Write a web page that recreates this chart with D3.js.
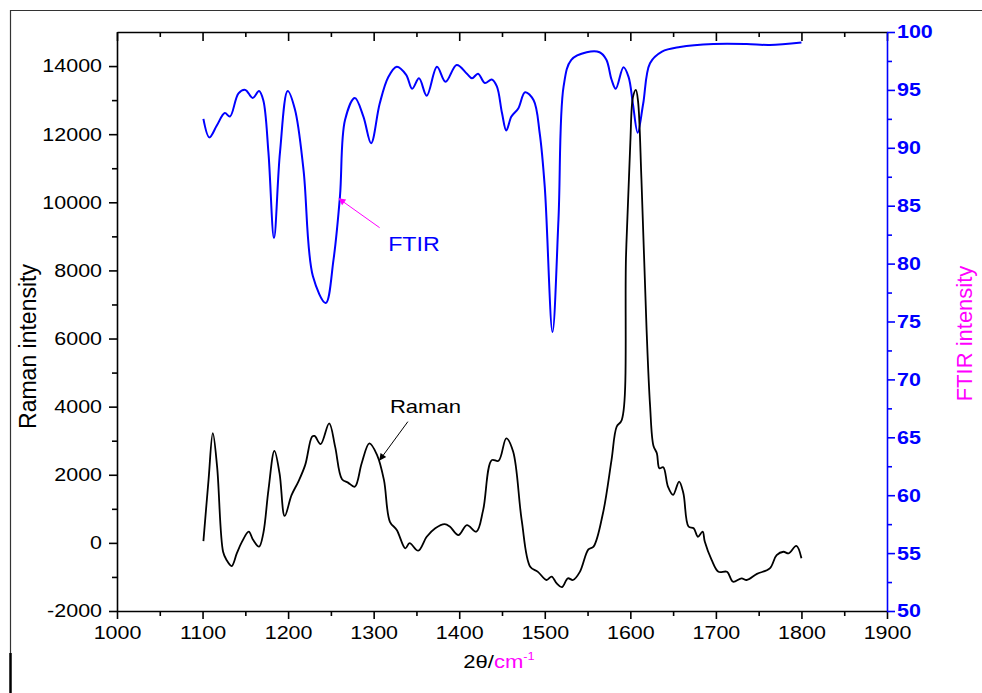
<!DOCTYPE html>
<html><head><meta charset="utf-8">
<script src="https://cdn.jsdelivr.net/npm/d3@7"></script>
<style>
body{margin:0;background:#fff}
svg{display:block}
text{font-family:"Liberation Sans",Arial,Helvetica,sans-serif}
</style>
</head><body>
<svg id="chart" width="982" height="693"></svg>
<script>
// ---------------- data ----------------
const ramanWavenumber = [1101,1107,1112,1117,1124,1128,1134,1140,1146,1154,1159,1166,1171,1177,1184,1190,1196,1204,1212,1220,1228,1231,1238,1248,1255,1263,1270,1278,1286,1295,1304,1312,1319,1327,1337,1342,1352,1362,1372,1383,1389,1399,1409,1420,1428,1438,1446,1455,1463,1473,1483,1492,1502,1508,1514,1520,1527,1533,1541,1551,1557,1568,1578,1584,1590,1595,1600,1603,1606.5,1609,1613,1619,1623,1627,1631,1634,1638.5,1644,1650,1657,1662,1668,1674,1679,1684.5,1687,1695,1703,1713,1720,1730,1736,1748,1763,1771,1779,1785,1794,1800];
const ramanIntensity = [50,1850,3220,2240,-260,-500,-680,-310,30,330,90,-110,280,1550,2700,2040,790,1400,1800,2290,3120,3140,2900,3510,2820,1870,1770,1650,2340,2920,2580,1850,620,380,-160,-10,-230,180,430,550,480,230,520,330,970,2430,2410,3070,2680,670,-700,-850,-1090,-990,-1190,-1300,-1040,-1090,-850,-190,-110,870,2430,3410,3610,8460,11760,13080,13300,12970,10660,6260,4060,2850,2630,2190,2220,1650,1410,1800,1460,480,430,180,330,40,-500,-850,-850,-1140,-1040,-1090,-910,-750,-360,-260,-310,-90,-450];

const ftirWavenumber = [1101,1108,1116.5,1126,1132,1142,1150,1158.6,1166,1171,1177,1183.5,1190.5,1199.5,1208,1218,1229,1244,1253,1260.6,1266.5,1278,1288,1297,1307,1317,1327,1338,1345,1353,1362,1374,1384,1397,1409,1415,1422,1430,1438,1444,1450,1455,1461,1469,1477,1487,1494,1500,1509,1516,1522,1531,1549,1564,1572,1578,1583,1592,1598,1603,1608.6,1615,1623,1637,1658,1697,1736,1763,1800];
const ftirIntensity = [92.5,90.9,91.9,93.0,92.7,94.7,95.0,94.3,94.9,94.1,89.6,82.2,89.6,94.9,93.3,88.1,78.9,76.6,80.3,85.8,92.4,94.3,92.7,90.4,93.8,96.1,97.0,96.3,95.1,96.0,94.5,97.0,95.7,97.15,96.4,96.0,96.4,95.6,95.9,95.3,93.0,91.5,92.7,93.4,94.8,94.1,91.3,86.6,74.1,83.8,95.3,97.6,98.25,98.25,97.6,95.9,95.1,96.95,96.1,93.8,91.3,93.8,97.3,98.3,98.7,98.96,98.96,98.88,99.1];

const xTicks = [1000,1100,1200,1300,1400,1500,1600,1700,1800,1900];
const xMinorTicks = [1050,1150,1250,1350,1450,1550,1650,1750,1850];
const leftTicks = [-2000,0,2000,4000,6000,8000,10000,12000,14000];
const leftMinorTicks = [-1000,1000,3000,5000,7000,9000,11000,13000];
const rightTicks = [50,55,60,65,70,75,80,85,90,95,100];
const rightMinorTicks = [52.5,57.5,62.5,67.5,72.5,77.5,82.5,87.5,92.5,97.5];

// ---------------- layout ----------------
const svg = d3.select("#chart");
const L = 117, R = 887, T = 32, B = 611;
const x = d3.scaleLinear().domain([1000,1900]).range([L,R]);
const yL = d3.scaleLinear().domain([-2000,15000]).range([B,T]);
const yR = d3.scaleLinear().domain([50,100]).range([B,T]);
const STRETCH = 1.16;
const tickFont = 18.5;
const fmt = d => String(d);

svg.append("rect").attr("width",982).attr("height",693).attr("fill","#fff");
// outer frame
svg.append("line").attr("x1",10).attr("x2",982).attr("y1",10.5).attr("y2",10.5).attr("stroke","#333").attr("stroke-width",1.2);
svg.append("line").attr("x1",10.5).attr("x2",10.5).attr("y1",10).attr("y2",653).attr("stroke","#333").attr("stroke-width",1.2);
svg.append("line").attr("x1",10.5).attr("x2",10.5).attr("y1",653).attr("y2",693).attr("stroke","#000").attr("stroke-width",2.5);

// curves
const line = (xs, ys, yscale) => d3.line().curve(d3.curveCatmullRom.alpha(0.5))
  .x((d,i)=>x(xs[i])).y((d,i)=>yscale(ys[i]));
svg.append("path").datum(ftirIntensity).attr("d", line(ftirWavenumber, ftirIntensity, yR))
  .attr("fill","none").attr("stroke","#0000ff").attr("stroke-width",2);
svg.append("path").datum(ramanIntensity).attr("d", line(ramanWavenumber, ramanIntensity, yL))
  .attr("fill","none").attr("stroke","#000").attr("stroke-width",1.8);

function styleAxis(g, color, w){
  g.selectAll("path.domain").attr("stroke",color).attr("stroke-width",w);
  g.selectAll(".tick line").attr("stroke",color).attr("stroke-width",w);
}
// bottom axis
const gB = svg.append("g").attr("transform",`translate(0,${B})`)
  .call(d3.axisBottom(x).tickValues(xTicks).tickSize(8).tickSizeOuter(0).tickPadding(7).tickFormat(fmt));
styleAxis(gB,"#000",1.6);
gB.selectAll("text").attr("font-size",tickFont).attr("fill","#000").classed("stretch",true);
const gBm = svg.append("g").attr("transform",`translate(0,${B})`)
  .call(d3.axisBottom(x).tickValues(xMinorTicks).tickSize(5).tickFormat(""));
gBm.select(".domain").remove(); styleAxis(gBm,"#000",1.6);
// top axis (inward ticks)
const gT = svg.append("g").attr("transform",`translate(0,${T})`)
  .call(d3.axisTop(x).tickValues(xTicks).tickSize(-9).tickSizeOuter(0).tickFormat(""));
styleAxis(gT,"#000",1.6);
const gTm = svg.append("g").attr("transform",`translate(0,${T})`)
  .call(d3.axisTop(x).tickValues(xMinorTicks).tickSize(-5).tickFormat(""));
gTm.select(".domain").remove(); styleAxis(gTm,"#000",1.6);
// left axis
const gL = svg.append("g").attr("transform",`translate(${L},0)`)
  .call(d3.axisLeft(yL).tickValues(leftTicks).tickSize(8).tickSizeOuter(0).tickPadding(7).tickFormat(fmt));
styleAxis(gL,"#000",1.6);
gL.selectAll("text").attr("font-size",tickFont).attr("fill","#000").classed("stretch",true);
const gLm = svg.append("g").attr("transform",`translate(${L},0)`)
  .call(d3.axisLeft(yL).tickValues(leftMinorTicks).tickSize(5).tickFormat(""));
gLm.select(".domain").remove(); styleAxis(gLm,"#000",1.6);
// right axis (blue)
const gR = svg.append("g").attr("transform",`translate(${R},0)`)
  .call(d3.axisRight(yR).tickValues(rightTicks).tickSize(8).tickSizeOuter(0).tickPadding(2).tickFormat(fmt));
styleAxis(gR,"#0000ff",1.6);
gR.selectAll("text").attr("font-size",tickFont).attr("font-weight","bold").attr("fill","#0000ff").classed("stretch",true);
const gRm = svg.append("g").attr("transform",`translate(${R},0)`)
  .call(d3.axisRight(yR).tickValues(rightMinorTicks).tickSize(5).tickFormat(""));
gRm.select(".domain").remove(); styleAxis(gRm,"#0000ff",1.6);

// axis titles
svg.append("text").attr("transform",`translate(36,${(T+B)/2+25}) rotate(-90)`)
  .attr("text-anchor","middle").attr("font-size",23).attr("fill","#000").text("Raman intensity");
svg.append("text").attr("transform",`translate(972,${(T+B)/2+12}) rotate(-90)`)
  .attr("text-anchor","middle").attr("font-size",22).attr("fill","#ff00ff").text("FTIR intensity");
const xt = svg.append("text").attr("x",(L+R)/2-3).attr("y",668).attr("text-anchor","middle").attr("font-size",19).classed("stretch",true);
xt.append("tspan").attr("fill","#000").text("2θ/");
xt.append("tspan").attr("fill","#ff00ff").text("cm");
xt.append("tspan").attr("fill","#ff00ff").attr("font-size",11).attr("dy",-8).text("-1");

// annotations
const defs = svg.append("defs");
function marker(id,color){
  defs.append("marker").attr("id",id).attr("viewBox","0 0 10 10").attr("refX",9).attr("refY",5)
    .attr("markerWidth",10).attr("markerHeight",7).attr("markerUnits","userSpaceOnUse").attr("orient","auto")
    .append("path").attr("d","M0,0 L10,5 L0,10 z").attr("fill",color);
}
marker("mMag","#ff00ff"); marker("mBlk","#000");
const ftirArrow = {from:[1307,83.1], to:[1259.5,85.6]};
const ramanArrow = {from:[1340,3560], to:[1307,2430]};
svg.append("line").attr("x1",x(ftirArrow.from[0])).attr("y1",yR(ftirArrow.from[1]))
  .attr("x2",x(ftirArrow.to[0])).attr("y2",yR(ftirArrow.to[1]))
  .attr("stroke","#ff00ff").attr("stroke-width",1).attr("marker-end","url(#mMag)");
svg.append("text").attr("x",x(1317)).attr("y",yR(81.1)).attr("font-size",20).attr("fill","#0000ff").classed("stretch",true).text("FTIR");
svg.append("line").attr("x1",x(ramanArrow.from[0])).attr("y1",yL(ramanArrow.from[1]))
  .attr("x2",x(ramanArrow.to[0])).attr("y2",yL(ramanArrow.to[1]))
  .attr("stroke","#000").attr("stroke-width",1).attr("marker-end","url(#mBlk)");
svg.append("text").attr("x",x(1319)).attr("y",yL(3813)).attr("font-size",19).attr("fill","#000").classed("stretch",true).text("Raman");

// horizontal stretch to mimic reference text proportions
svg.selectAll("text.stretch").each(function(){
  const w = this.getComputedTextLength();
  d3.select(this).attr("textLength", w*STRETCH).attr("lengthAdjust","spacingAndGlyphs");
});
</script>
</body></html>
